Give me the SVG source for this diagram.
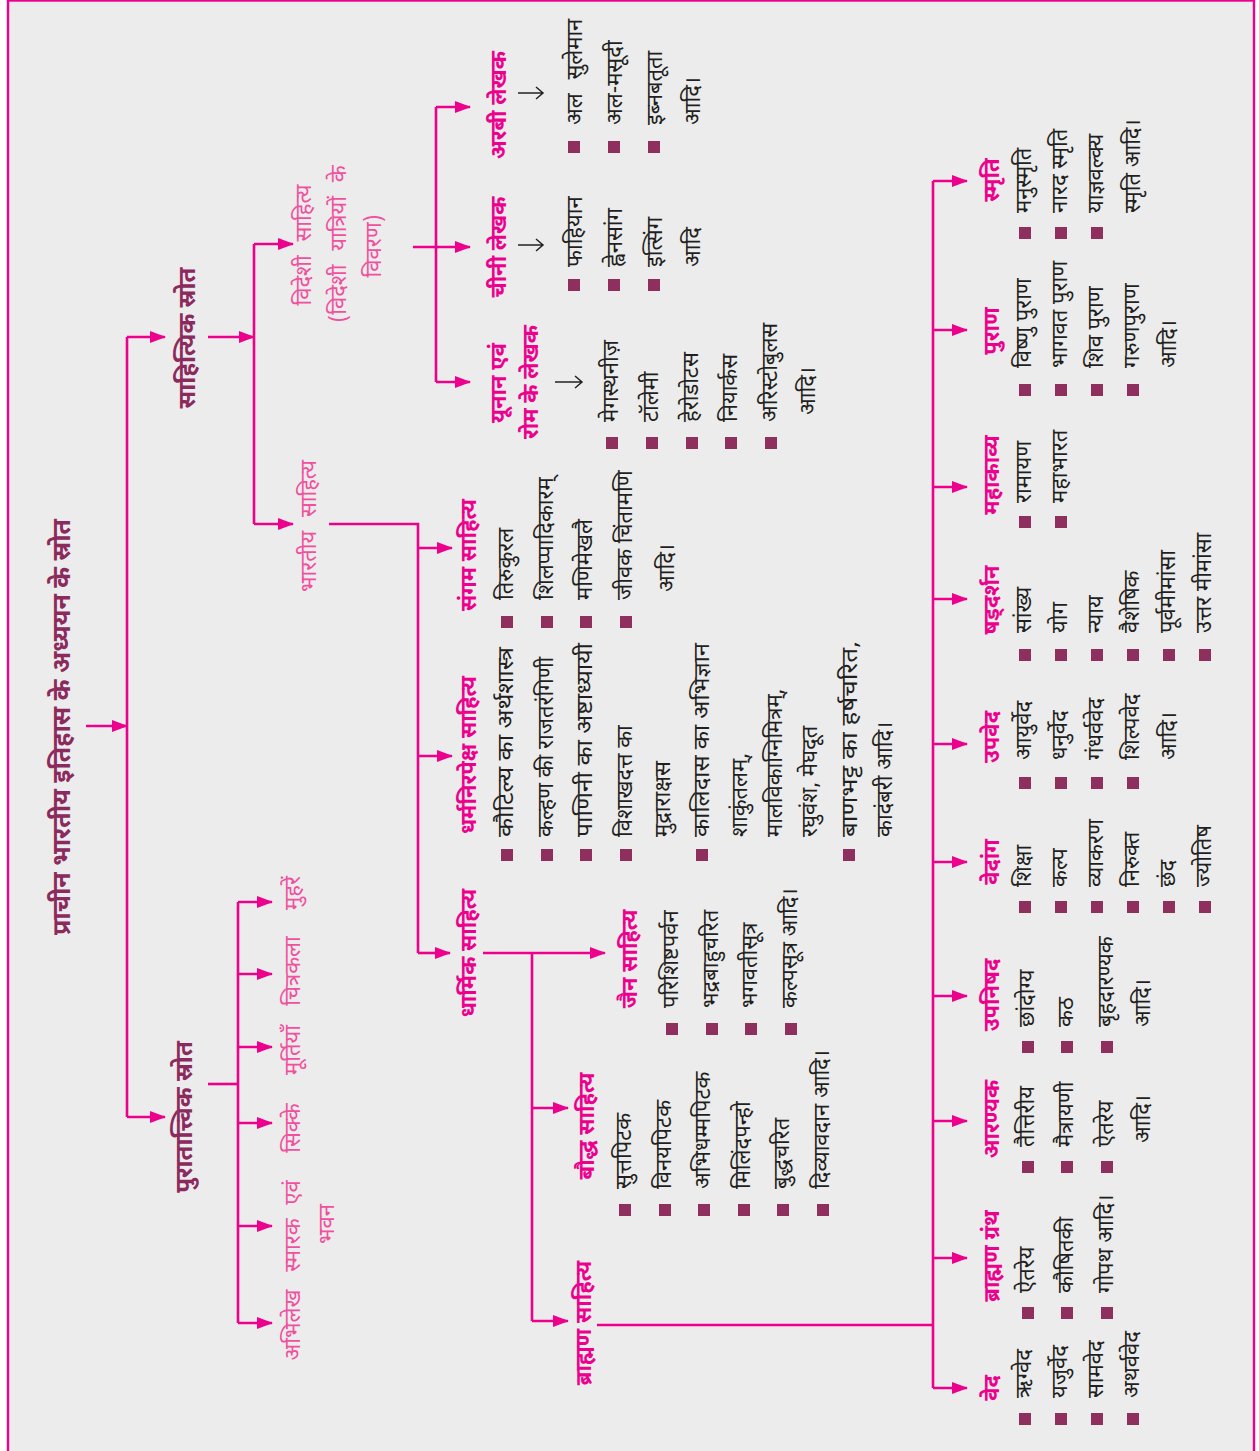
<svg xmlns="http://www.w3.org/2000/svg" width="1259" height="1451" viewBox="0 0 1259 1451">
<defs>
<marker id="ah" viewBox="0 0 16 12" refX="15" refY="6" markerWidth="16" markerHeight="12" markerUnits="userSpaceOnUse" orient="auto"><path d="M0,0 L16,6 L0,12 z" fill="#ec008c"/></marker>
<style>
text{font-family:"Noto Sans Devanagari","Noto Sans",sans-serif}
.it{font-size:22px;fill:#231f20}
.lb{font-size:22px;font-weight:bold;fill:#ec008c;text-anchor:middle}
.lp{font-size:22px;fill:#f0509e;text-anchor:middle;word-spacing:8px}
.mr{font-weight:bold;fill:#8b2a5c;text-anchor:middle}
.b{fill:#8e2f5e}
.c{stroke:#ec008c;stroke-width:2.6;fill:none}
.a{marker-end:url(#ah)}
.g{stroke:#222;stroke-width:1.5;fill:none}
</style>
</defs>
<rect width="1259" height="1451" fill="#ffffff"/>
<rect x="8" y="0.5" width="1246" height="1480" fill="#ececec" stroke="#ec008c" stroke-width="2.4"/>

<g id="connectors">
<path class="c a" d="M86,726 H127"/>
<path class="c" d="M127,337 V1117"/>
<path class="c a" d="M127,337 H165"/>
<path class="c a" d="M127,1117 H165"/>
<path class="c a" d="M208,337 H254"/>
<path class="c" d="M254,244 V524"/>
<path class="c a" d="M254,244 H293"/>
<path class="c a" d="M254,524 H293"/>
<path class="c" d="M329,524 H418 V953"/>
<path class="c a" d="M418,548 H452"/>
<path class="c a" d="M418,756 H452"/>
<path class="c a" d="M418,953 H450"/>
<path class="c" d="M436,107 V382"/>
<path class="c a" d="M413,247 H470"/>
<path class="c a" d="M436,107 H470"/>
<path class="c a" d="M436,382 H470"/>
<path class="c a" d="M483,953 H605"/>
<path class="c" d="M532,953 V1321"/>
<path class="c a" d="M532,1108 H568"/>
<path class="c a" d="M532,1321 H568"/>
<path class="c" d="M597,1325 H933"/>
<path class="c" d="M933,181 V1388"/>
<path class="c a" d="M933,181 H967"/>
<path class="c a" d="M933,330 H967"/>
<path class="c a" d="M933,487 H967"/>
<path class="c a" d="M933,599 H967"/>
<path class="c a" d="M933,744 H967"/>
<path class="c a" d="M933,862 H967"/>
<path class="c a" d="M933,996 H967"/>
<path class="c a" d="M933,1121 H967"/>
<path class="c a" d="M933,1258 H967"/>
<path class="c a" d="M933,1388 H967"/>
<path class="c" d="M208,1084 H238"/>
<path class="c" d="M238,902 V1323"/>
<path class="c a" d="M238,902 H272"/>
<path class="c a" d="M238,974 H272"/>
<path class="c a" d="M238,1047 H272"/>
<path class="c a" d="M238,1123 H272"/>
<path class="c a" d="M238,1226 H272"/>
<path class="c a" d="M238,1323 H272"/>
<path class="g" d="M518,93 H543 M536,87 L543,93 L536,99"/>
<path class="g" d="M518,245 H543 M536,239 L543,245 L536,251"/>
<path class="g" d="M555,382 H582 M575,376 L582,382 L575,388"/>
</g>

<g id="n-title"><text class="mr" font-size="25" transform="translate(70,727) rotate(-90)">प्राचीन भारतीय इतिहास के अध्ययन के स्रोत</text></g>
<g id="n-sahityik"><text class="mr" font-size="24" transform="translate(195,338) rotate(-90)">साहित्यिक स्रोत</text></g>
<g id="n-puratattvik"><text class="mr" font-size="24" transform="translate(192,1117) rotate(-90)">पुरातात्त्विक स्रोत</text></g>

<g id="n-videshi">
<text class="lp" transform="translate(311,245) rotate(-90)">विदेशी साहित्य</text>
<text class="lp" transform="translate(346,244) rotate(-90)">(विदेशी यात्रियों के</text>
<text class="lp" transform="translate(381,246) rotate(-90)">विवरण)</text>
</g>
<g id="n-bharatiya"><text class="lp" transform="translate(316,526) rotate(-90)">भारतीय साहित्य</text></g>

<g id="n-muhre"><text class="lp" transform="translate(300,893) rotate(-90)">मुहरें</text></g>
<g id="n-chitrakala"><text class="lp" transform="translate(300,971) rotate(-90)">चित्रकला</text></g>
<g id="n-murtiyan"><text class="lp" transform="translate(300,1050) rotate(-90)">मूर्तियाँ</text></g>
<g id="n-sikke"><text class="lp" transform="translate(300,1128) rotate(-90)">सिक्के</text></g>
<g id="n-smarak"><text class="lp" transform="translate(300,1226) rotate(-90)">स्मारक एवं</text><text class="lp" transform="translate(334,1224) rotate(-90)">भवन</text></g>
<g id="n-abhilekh"><text class="lp" transform="translate(300,1325) rotate(-90)">अभिलेख</text></g>

<g id="n-arabi">
<text class="lb" transform="translate(506,105) rotate(-90)">अरबी लेखक</text>
<rect class="b" x="568" y="141" width="12" height="12"/><rect class="b" x="608" y="141" width="12" height="12"/><rect class="b" x="648" y="141" width="12" height="12"/>
<text class="it" transform="translate(582,125) rotate(-90)" word-spacing="8">अल सुलेमान</text>
<text class="it" transform="translate(622,125) rotate(-90)">अल-मसूदी</text>
<text class="it" transform="translate(662,125) rotate(-90)">इब्नबतूता</text>
<text class="it" transform="translate(700,125) rotate(-90)">आदि।</text>
</g>
<g id="n-chini">
<text class="lb" transform="translate(506,247) rotate(-90)">चीनी लेखक</text>
<rect class="b" x="568" y="279" width="12" height="12"/><rect class="b" x="608" y="279" width="12" height="12"/><rect class="b" x="648" y="279" width="12" height="12"/>
<text class="it" transform="translate(582,267) rotate(-90)">फाहियान</text>
<text class="it" transform="translate(622,267) rotate(-90)">ह्वेनसांग</text>
<text class="it" transform="translate(662,267) rotate(-90)">इत्सिंग</text>
<text class="it" transform="translate(700,267) rotate(-90)">आदि</text>
</g>
<g id="n-yunan">
<text class="lb" transform="translate(506,383) rotate(-90)">यूनान एवं</text>
<text class="lb" transform="translate(538,382) rotate(-90)">रोम के लेखक</text>
<rect class="b" x="606" y="437" width="12" height="12"/><rect class="b" x="646" y="437" width="12" height="12"/><rect class="b" x="686" y="437" width="12" height="12"/><rect class="b" x="725" y="437" width="12" height="12"/><rect class="b" x="765" y="437" width="12" height="12"/>
<text class="it" transform="translate(618,422) rotate(-90)">मेगस्थनीज़</text>
<text class="it" transform="translate(658,422) rotate(-90)">टॉलेमी</text>
<text class="it" transform="translate(698,422) rotate(-90)">हेरोडोटस</text>
<text class="it" transform="translate(737,422) rotate(-90)">नियार्कस</text>
<text class="it" transform="translate(777,422) rotate(-90)">अरिस्टोबुलस</text>
<text class="it" transform="translate(815,415) rotate(-90)">आदि।</text>
</g>

<g id="n-sangam">
<text class="lb" transform="translate(476,555) rotate(-90)">संगम साहित्य</text>
<rect class="b" x="501" y="616" width="12" height="12"/><rect class="b" x="541" y="616" width="12" height="12"/><rect class="b" x="580" y="616" width="12" height="12"/><rect class="b" x="620" y="616" width="12" height="12"/>
<text class="it" transform="translate(513,600) rotate(-90)">तिरुकुरल</text>
<text class="it" transform="translate(553,600) rotate(-90)">शिलप्पादिकारम्</text>
<text class="it" transform="translate(592,600) rotate(-90)">मणिमेखलै</text>
<text class="it" transform="translate(632,600) rotate(-90)">जीवक चिंतामणि</text>
<text class="it" transform="translate(674,592) rotate(-90)">आदि।</text>
</g>

<g id="n-dharmanirpeksh">
<text class="lb" transform="translate(476,755) rotate(-90)">धर्मनिरपेक्ष साहित्य</text>
<rect class="b" x="501" y="849" width="12" height="12"/><rect class="b" x="541" y="849" width="12" height="12"/><rect class="b" x="580" y="849" width="12" height="12"/><rect class="b" x="620" y="849" width="12" height="12"/><rect class="b" x="696" y="849" width="12" height="12"/><rect class="b" x="843" y="849" width="12" height="12"/>
<text class="it" transform="translate(513,837) rotate(-90)" textLength="190" lengthAdjust="spacingAndGlyphs">कौटिल्य का अर्थशास्त्र</text>
<text class="it" transform="translate(553,837) rotate(-90)">कल्हण की राजतरंगिणी</text>
<text class="it" transform="translate(592,837) rotate(-90)" textLength="194" lengthAdjust="spacingAndGlyphs">पाणिनी का अष्टाध्यायी</text>
<text class="it" transform="translate(632,837) rotate(-90)">विशाखदत्त का</text>
<text class="it" transform="translate(670,837) rotate(-90)">मुद्राराक्षस</text>
<text class="it" transform="translate(709,837) rotate(-90)" textLength="194" lengthAdjust="spacingAndGlyphs">कालिदास का अभिज्ञान</text>
<text class="it" transform="translate(747,837) rotate(-90)">शाकुंतलम्,</text>
<text class="it" transform="translate(782,837) rotate(-90)">मालविकाग्निमित्रम्,</text>
<text class="it" transform="translate(817,837) rotate(-90)">रघुवंश, मेघदूत</text>
<text class="it" transform="translate(857,837) rotate(-90)" textLength="196" lengthAdjust="spacingAndGlyphs">बाणभट्ट का हर्षचरित,</text>
<text class="it" transform="translate(892,837) rotate(-90)">कादंबरी आदि।</text>
</g>

<g id="n-dharmik"><text class="lb" transform="translate(476,953) rotate(-90)">धार्मिक साहित्य</text></g>

<g id="n-jain">
<text class="lb" transform="translate(637,959) rotate(-90)">जैन साहित्य</text>
<rect class="b" x="666" y="1023" width="12" height="12"/><rect class="b" x="706" y="1023" width="12" height="12"/><rect class="b" x="745" y="1023" width="12" height="12"/><rect class="b" x="785" y="1023" width="12" height="12"/>
<text class="it" transform="translate(678,1008) rotate(-90)">परिशिष्टपर्वन</text>
<text class="it" transform="translate(718,1008) rotate(-90)">भद्रबाहुचरित</text>
<text class="it" transform="translate(757,1008) rotate(-90)">भगवतीसूत्र</text>
<text class="it" transform="translate(797,1008) rotate(-90)">कल्पसूत्र आदि।</text>
</g>

<g id="n-bauddh">
<text class="lb" transform="translate(594,1126) rotate(-90)">बौद्ध साहित्य</text>
<rect class="b" x="619" y="1204" width="12" height="12"/><rect class="b" x="659" y="1204" width="12" height="12"/><rect class="b" x="698" y="1204" width="12" height="12"/><rect class="b" x="738" y="1204" width="12" height="12"/><rect class="b" x="777" y="1204" width="12" height="12"/><rect class="b" x="817" y="1204" width="12" height="12"/>
<text class="it" transform="translate(631,1189) rotate(-90)">सुत्तपिटक</text>
<text class="it" transform="translate(671,1189) rotate(-90)">विनयपिटक</text>
<text class="it" transform="translate(710,1189) rotate(-90)">अभिधम्मपिटक</text>
<text class="it" transform="translate(750,1189) rotate(-90)">मिलिंदपन्हो</text>
<text class="it" transform="translate(789,1189) rotate(-90)">बुद्धचरित</text>
<text class="it" transform="translate(829,1189) rotate(-90)">दिव्यावदान आदि।</text>
</g>

<g id="n-brahmansahitya"><text class="lb" transform="translate(591,1323) rotate(-90)">ब्राह्मण साहित्य</text></g>

<g id="n-smriti">
<text class="lb" transform="translate(999,180) rotate(-90)">स्मृति</text>
<rect class="b" x="1019" y="227" width="12" height="12"/><rect class="b" x="1055" y="227" width="12" height="12"/><rect class="b" x="1091" y="227" width="12" height="12"/>
<text class="it" transform="translate(1031,213) rotate(-90)">मनुस्मृति</text>
<text class="it" transform="translate(1067,213) rotate(-90)">नारद स्मृति</text>
<text class="it" transform="translate(1103,213) rotate(-90)">याज्ञवल्क्य</text>
<text class="it" transform="translate(1140,213) rotate(-90)">स्मृति आदि।</text>
</g>
<g id="n-puran">
<text class="lb" transform="translate(999,331) rotate(-90)">पुराण</text>
<rect class="b" x="1019" y="384" width="12" height="12"/><rect class="b" x="1055" y="384" width="12" height="12"/><rect class="b" x="1091" y="384" width="12" height="12"/><rect class="b" x="1127" y="384" width="12" height="12"/>
<text class="it" transform="translate(1031,368) rotate(-90)">विष्णु पुराण</text>
<text class="it" transform="translate(1067,368) rotate(-90)">भागवत पुराण</text>
<text class="it" transform="translate(1103,368) rotate(-90)">शिव पुराण</text>
<text class="it" transform="translate(1139,368) rotate(-90)">गरुणपुराण</text>
<text class="it" transform="translate(1176,368) rotate(-90)">आदि।</text>
</g>
<g id="n-mahakavya">
<text class="lb" transform="translate(999,475) rotate(-90)">महाकाव्य</text>
<rect class="b" x="1019" y="516" width="12" height="12"/><rect class="b" x="1055" y="516" width="12" height="12"/>
<text class="it" transform="translate(1031,503) rotate(-90)">रामायण</text>
<text class="it" transform="translate(1067,503) rotate(-90)">महाभारत</text>
</g>
<g id="n-shaddarshan">
<text class="lb" transform="translate(999,600) rotate(-90)">षड्दर्शन</text>
<rect class="b" x="1019" y="649" width="12" height="12"/><rect class="b" x="1055" y="649" width="12" height="12"/><rect class="b" x="1091" y="649" width="12" height="12"/><rect class="b" x="1127" y="649" width="12" height="12"/><rect class="b" x="1163" y="649" width="12" height="12"/><rect class="b" x="1199" y="649" width="12" height="12"/>
<text class="it" transform="translate(1031,633) rotate(-90)">सांख्य</text>
<text class="it" transform="translate(1067,633) rotate(-90)">योग</text>
<text class="it" transform="translate(1103,633) rotate(-90)">न्याय</text>
<text class="it" transform="translate(1139,633) rotate(-90)">वैशेषिक</text>
<text class="it" transform="translate(1175,633) rotate(-90)">पूर्वमीमांसा</text>
<text class="it" transform="translate(1211,633) rotate(-90)">उत्तर मीमांसा</text>
</g>
<g id="n-upved">
<text class="lb" transform="translate(999,737) rotate(-90)">उपवेद</text>
<rect class="b" x="1019" y="777" width="12" height="12"/><rect class="b" x="1055" y="777" width="12" height="12"/><rect class="b" x="1091" y="777" width="12" height="12"/><rect class="b" x="1127" y="777" width="12" height="12"/>
<text class="it" transform="translate(1031,760) rotate(-90)">आयुर्वेद</text>
<text class="it" transform="translate(1067,760) rotate(-90)">धनुर्वेद</text>
<text class="it" transform="translate(1103,760) rotate(-90)">गंधर्ववेद</text>
<text class="it" transform="translate(1139,760) rotate(-90)">शिल्पवेद</text>
<text class="it" transform="translate(1176,760) rotate(-90)">आदि।</text>
</g>
<g id="n-vedang">
<text class="lb" transform="translate(999,862) rotate(-90)">वेदांग</text>
<rect class="b" x="1019" y="901" width="12" height="12"/><rect class="b" x="1055" y="901" width="12" height="12"/><rect class="b" x="1091" y="901" width="12" height="12"/><rect class="b" x="1127" y="901" width="12" height="12"/><rect class="b" x="1163" y="901" width="12" height="12"/><rect class="b" x="1199" y="901" width="12" height="12"/>
<text class="it" transform="translate(1031,887) rotate(-90)">शिक्षा</text>
<text class="it" transform="translate(1067,887) rotate(-90)">कल्प</text>
<text class="it" transform="translate(1103,887) rotate(-90)">व्याकरण</text>
<text class="it" transform="translate(1139,887) rotate(-90)">निरुक्त</text>
<text class="it" transform="translate(1175,887) rotate(-90)">छंद</text>
<text class="it" transform="translate(1211,887) rotate(-90)">ज्योतिष</text>
</g>
<g id="n-upanishad">
<text class="lb" transform="translate(999,995) rotate(-90)">उपनिषद</text>
<rect class="b" x="1022" y="1041" width="12" height="12"/><rect class="b" x="1061" y="1041" width="12" height="12"/><rect class="b" x="1101" y="1041" width="12" height="12"/>
<text class="it" transform="translate(1034,1027) rotate(-90)">छांदोग्य</text>
<text class="it" transform="translate(1073,1027) rotate(-90)">कठ</text>
<text class="it" transform="translate(1113,1027) rotate(-90)">बृहदारण्यक</text>
<text class="it" transform="translate(1150,1027) rotate(-90)">आदि।</text>
</g>
<g id="n-aranyak">
<text class="lb" transform="translate(999,1119) rotate(-90)">आरण्यक</text>
<rect class="b" x="1022" y="1161" width="12" height="12"/><rect class="b" x="1061" y="1161" width="12" height="12"/><rect class="b" x="1101" y="1161" width="12" height="12"/>
<text class="it" transform="translate(1034,1147) rotate(-90)">तैत्तिरीय</text>
<text class="it" transform="translate(1073,1147) rotate(-90)">मैत्रायणी</text>
<text class="it" transform="translate(1113,1147) rotate(-90)">ऐतरेय</text>
<text class="it" transform="translate(1150,1143) rotate(-90)">आदि।</text>
</g>
<g id="n-brahmangranth">
<text class="lb" transform="translate(999,1256) rotate(-90)">ब्राह्मण ग्रंथ</text>
<rect class="b" x="1022" y="1307" width="12" height="12"/><rect class="b" x="1061" y="1307" width="12" height="12"/><rect class="b" x="1101" y="1307" width="12" height="12"/>
<text class="it" transform="translate(1034,1293) rotate(-90)">ऐतरेय</text>
<text class="it" transform="translate(1073,1293) rotate(-90)">कौषितकी</text>
<text class="it" transform="translate(1113,1293) rotate(-90)">गोपथ आदि।</text>
</g>
<g id="n-ved">
<text class="lb" transform="translate(999,1388) rotate(-90)">वेद</text>
<rect class="b" x="1019" y="1413" width="12" height="12"/><rect class="b" x="1055" y="1413" width="12" height="12"/><rect class="b" x="1091" y="1413" width="12" height="12"/><rect class="b" x="1127" y="1413" width="12" height="12"/>
<text class="it" transform="translate(1031,1398) rotate(-90)">ऋग्वेद</text>
<text class="it" transform="translate(1067,1398) rotate(-90)">यजुर्वेद</text>
<text class="it" transform="translate(1103,1398) rotate(-90)">सामवेद</text>
<text class="it" transform="translate(1139,1398) rotate(-90)">अथर्ववेद</text>
</g>
</svg>
